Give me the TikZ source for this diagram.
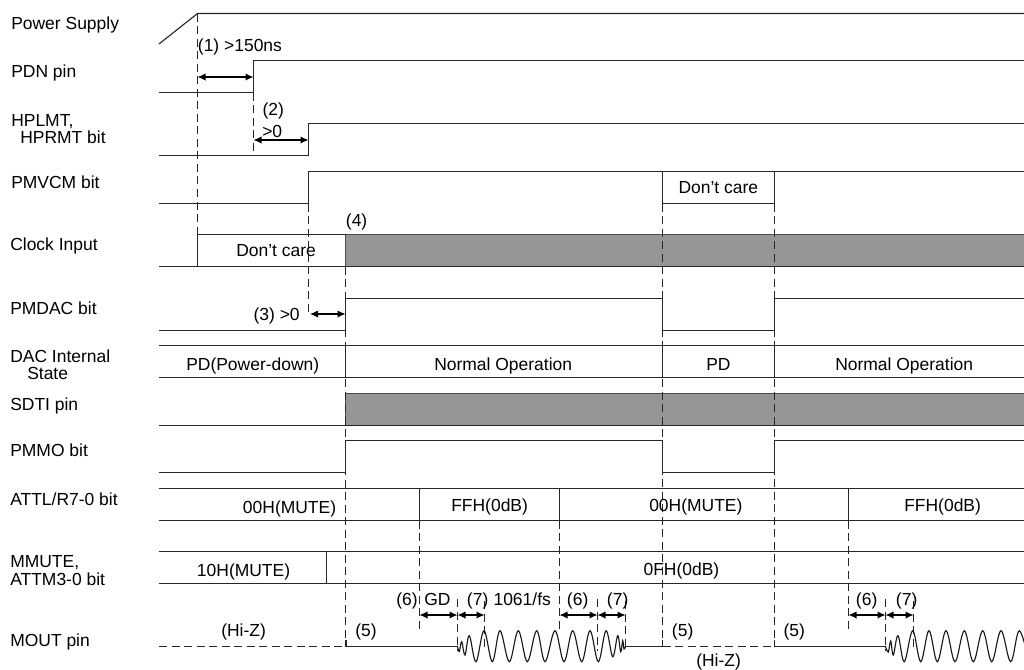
\documentclass[tikz,border=0pt]{standalone}
\usepackage{fontspec}
\setmainfont{Liberation Sans}
\usetikzlibrary{arrows.meta}
\tikzset{
  sig/.style={line width=0.85pt,black!85},
  wav/.style={line width=0.85pt,black!90,smooth,tension=0.6},
  dsh/.style={line width=0.8pt,black!85,dash pattern=on 6pt off 3.4pt},
  dim/.style={line width=0.85pt,black,{Latex[length=6pt,width=5.5pt]}-{Latex[length=6pt,width=5.5pt]}},
  busfill/.style={fill=black!41,draw=black!70,line width=0.9pt},
  lbl/.style={font=\fontsize{13.1pt}{15pt}\selectfont,inner sep=0pt,anchor=base west}
}
\begin{document}
\begin{tikzpicture}[x=0.75pt,y=-0.75pt]
\useasboundingbox (0,0) rectangle (1024,669);
% gray bands
\path[busfill] (345.5,234.5) rectangle (1030,266.5);
\path[busfill] (345.5,393.5) rectangle (1030,425.5);
% dashed guides
\coordinate (psT) at (197.5,13.5); \coordinate (psB) at (197.5,234.5);
\draw[dsh] (psT) -- (psB);
\coordinate (pdT) at (253.5,92.5); \coordinate (pdB) at (253.5,155.5);
\draw[dsh] (pdT) -- (pdB);
\coordinate (vcT) at (308.5,203.5); \coordinate (vcB) at (308.5,313);
\draw[dsh] (vcT) -- (vcB);
\coordinate (daT) at (345.5,266.5); \coordinate (daB) at (345.5,646.5);
\draw[dsh] (daT) -- (daB);
\coordinate (c1T) at (662.5,203.5); \coordinate (c1B) at (662.5,646.5);
\draw[dsh] (c1T) -- (c1B);
\coordinate (c2T) at (774.5,203.5); \coordinate (c2B) at (774.5,646.5);
\draw[dsh] (c2T) -- (c2B);
\foreach \xx in {419.5,559.5,848.5}{\draw[dsh] (\xx,520.5) -- (\xx,631);}
\foreach \xx in {457.5,597.5,885.5}{\draw[dsh] (\xx,599) -- (\xx,651);}
\foreach \xx in {484.5,625.5,913.5}{\draw[dsh] (\xx,601) -- (\xx,647);}
% signals
\draw[sig] (159,44) -- (197.5,13.5) -- (1030,13.5);
\draw[sig] (159,92.5) -- (253.5,92.5) -- (253.5,60.5) -- (1030,60.5);
\draw[sig] (159,155.5) -- (308.5,155.5) -- (308.5,123.5) -- (1030,123.5);
\draw[sig] (159,203.5) -- (308.5,203.5) -- (308.5,171.5) -- (1030,171.5);
\draw[sig] (662.5,171.5) -- (662.5,203.5) -- (774.5,203.5) -- (774.5,171.5);
\draw[sig] (159,266.5) -- (1030,266.5);
\draw[sig] (197.5,266.5) -- (197.5,234.5) -- (345.5,234.5);
\draw[sig] (159,330.5) -- (345.5,330.5) -- (345.5,298.5) -- (662.5,298.5) -- (662.5,330.5) -- (774.5,330.5) -- (774.5,298.5) -- (1030,298.5);
\draw[sig] (159,345.5) -- (1030,345.5);
\draw[sig] (159,377.5) -- (1030,377.5);
\foreach \xx in {345.5,662.5,774.5}{\draw[sig] (\xx,345.5) -- (\xx,377.5);}
\draw[sig] (159,425.5) -- (1030,425.5);
\draw[sig] (159,472.5) -- (345.5,472.5) -- (345.5,440.5) -- (662.5,440.5) -- (662.5,472.5) -- (774.5,472.5) -- (774.5,440.5) -- (1030,440.5);
\draw[sig] (159,488.5) -- (1030,488.5);
\draw[sig] (159,520.5) -- (1030,520.5);
\foreach \xx in {419.5,559.5,848.5}{\draw[sig] (\xx,488.5) -- (\xx,520.5);}
\draw[sig] (159,551.5) -- (1030,551.5);
\draw[sig] (159,583.5) -- (1030,583.5);
\draw[sig] (326.5,551.5) -- (326.5,583.5);
% MOUT
\draw[dsh] (159,646.5) -- (345.5,646.5);
\draw[dsh] (662.5,646.5) -- (774.5,646.5);
\draw[sig] (346,640) -- (346,646.5) -- (457.5,646.5);
\draw[sig] (625.5,646.5) -- (662.5,646.5) -- (662.5,640);
\draw[sig] (774.5,640) -- (774.5,646.5) -- (885.5,646.5);
% waves
\draw[wav] plot coordinates {(457.5,646.5)(459.3,651.5)(461.7,641.7)(465,655)(469.3,635.7)(476,661.7)(484,630.7)(492.3,661.7)(500,630.7)(509.3,661.7)(518.3,630.7)(527.3,661.7)(536.7,630.7)(545,661.7)(555,630.7)(564,661.7)(572.7,630.7)(581.7,661.7)(590,630.7)(598.3,661.7)(606,630.7)(612.7,656.7)(617.7,635.7)(620.7,651.7)(622.7,640.7)(624,649)(625.5,646.5)};
\draw[wav] plot coordinates {(885.5,646.5)(888.3,652)(890.7,641)(893.3,655)(898,635.7)(904.3,661.7)(912.7,630.7)(920.7,661.7)(929,630.7)(937.3,661.7)(946,630.7)(955,661.7)(964.3,630.7)(973.3,661.7)(982.7,630.7)(991.7,661.7)(1001,630.7)(1010.7,661.7)(1019.3,630.7)(1029,661.7)};
% arrows
\coordinate (a1) at (197.5,77); \coordinate (b1) at (253.5,77); \draw[dim] (a1) -- (b1);
\coordinate (a2) at (253.5,140); \coordinate (b2) at (308.5,140); \draw[dim] (a2) -- (b2);
\coordinate (a3) at (310,314); \coordinate (b3) at (345.5,314); \draw[dim] (a3) -- (b3);
\foreach \aa/\bb in {419.5/457.5,457.5/484.5,559.5/597.5,597.5/625.5,848.5/885.5,885.5/913.5}{\draw[dim] (\aa,615) -- (\bb,615);}
% left labels
\node[lbl] (lPS) at (11,29.3) {Power Supply};
\node[lbl] (lPDN) at (11,77) {PDN pin};
\node[lbl] (lHP1) at (11,126) {HPLMT,};
\node[lbl] (lHP2) at (20,143.7) {HPRMT bit};
\node[lbl] (lVC) at (11,188) {PMVCM bit};
\node[lbl] (lCK) at (10,250.7) {Clock Input};
\node[lbl] (lDAC) at (10,314) {PMDAC bit};
\node[lbl] (lIS1) at (10,362.3) {DAC Internal};
\node[lbl] (lIS2) at (27,379.3) {State};
\node[lbl] (lSD) at (10,410.3) {SDTI pin};
\node[lbl] (lMO) at (10,456.7) {PMMO bit};
\node[lbl] (lAT) at (10,505) {ATTL/R7-0 bit};
\node[lbl] (lMM1) at (10,567.7) {MMUTE,};
\node[lbl] (lMM2) at (10,585) {ATTM3-0 bit};
\node[lbl] (lMP) at (10,646) {MOUT pin};
% other text
\node[lbl] (t1) at (197.7,51) {(1) >150ns};
\node[lbl] (t2) at (262.3,115) {(2)};
\node[lbl] (t2b) at (262,137) {>0};
\node[lbl] (dc1) at (236,256) {Don’t care};
\node[lbl] (dc2) at (678.3,193.3) {Don’t care};
\node[lbl] (t4) at (345.7,226.7) {(4)};
\node[lbl] (t3) at (253.3,320) {(3) >0};
\node[lbl] (pd1) at (186,370) {PD(Power-down)};
\node[lbl] (no1) at (434,370) {Normal Operation};
\node[lbl] (pd2) at (706,370) {PD};
\node[lbl] (no2) at (835,370) {Normal Operation};
\node[lbl] (m1) at (242.7,513.3) {00H(MUTE)};
\node[lbl] (f1) at (451,511.5) {FFH(0dB)};
\node[lbl] (m2) at (649,511.5) {00H(MUTE)};
\node[lbl] (f2) at (904,511.5) {FFH(0dB)};
\node[lbl] (m3) at (196.7,576) {10H(MUTE)};
\node[lbl] (f3) at (643.3,575) {0FH(0dB)};
\node[lbl] (hz1) at (221,636.7) {(Hi-Z)};
\node[lbl] (hz2) at (696,666) {(Hi-Z)};
\node[lbl] (p5a) at (355,636.7) {(5)};
\node[lbl] (p5b) at (671.7,636.7) {(5)};
\node[lbl] (p5c) at (783.3,636.7) {(5)};
\node[lbl] (p6a) at (396,605.3) {(6)};
\node[lbl] (gd) at (424,605.3) {GD};
\node[lbl] (p7a) at (466.7,605.3) {(7)};
\node[lbl] (fs) at (493.3,605.3) {1061/fs};
\node[lbl] (p6b) at (566.7,605.3) {(6)};
\node[lbl] (p7b) at (606.7,605.3) {(7)};
\node[lbl] (p6c) at (855.7,605.3) {(6)};
\node[lbl] (p7c) at (895.7,605.3) {(7)};
\end{tikzpicture}
\end{document}
